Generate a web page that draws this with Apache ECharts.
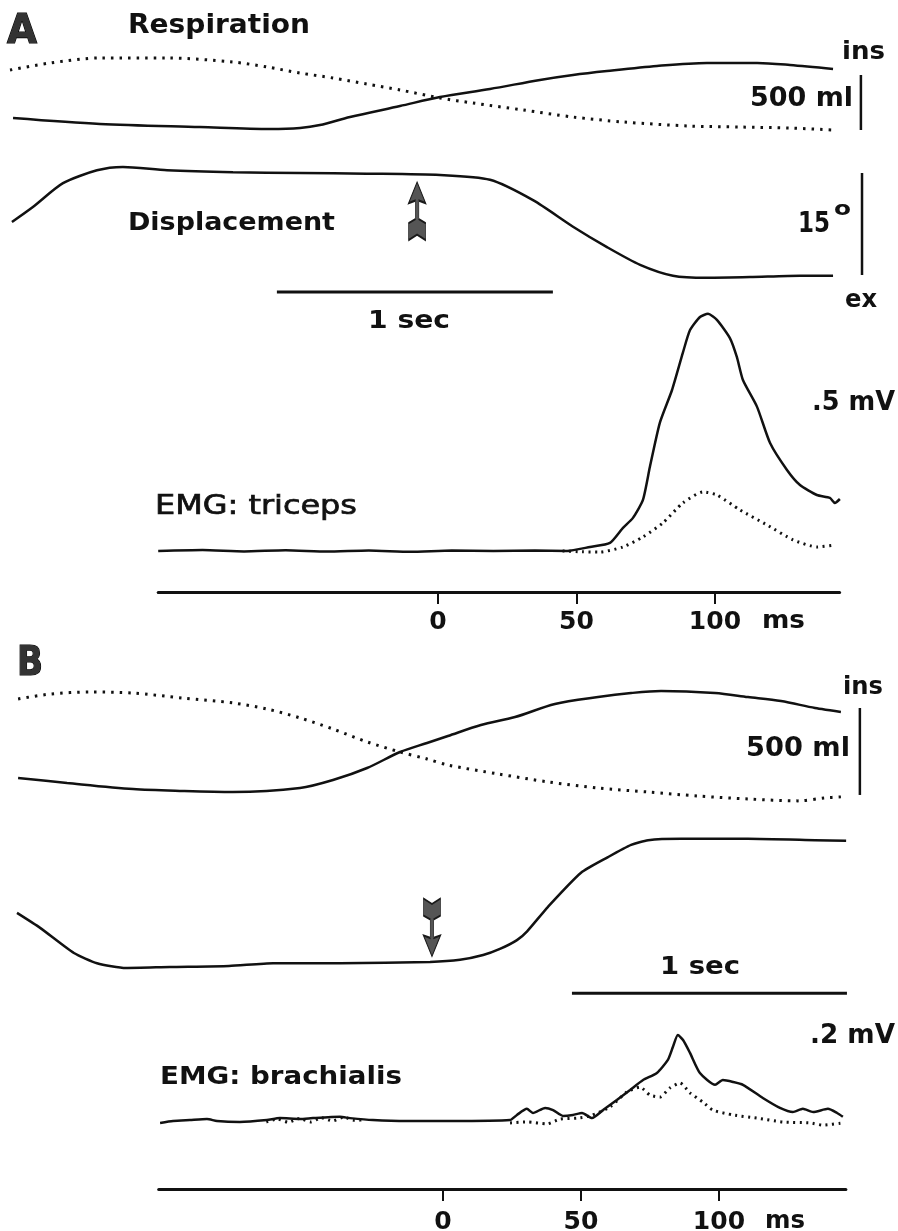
<!DOCTYPE html>
<html>
<head>
<meta charset="utf-8">
<script src="https://cdn.jsdelivr.net/npm/echarts@6/dist/echarts.min.js"></script>
<style>
html, body { margin: 0; padding: 0; background: #fff; }
#chart { width: 898px; height: 1231px; }
</style>
</head>
<body>
<div id="chart"></div>
<script>
// ---- panel A : slow traces, time in s ----
var aRespSolid = [[0.011,109],[0.326,55],[0.688,27],[0.942,9],[1.051,18],[1.123,45],[1.232,118],[1.413,218],[1.558,300],[1.739,373],[1.920,455],[2.040,500],[2.163,536],[2.344,582],[2.525,609],[2.707,609],[2.826,591],[2.982,555]];
var aRespDotted = [[0,545],[0.145,609],[0.326,655],[0.569,655],[0.808,618],[0.931,573],[1.051,518],[1.170,473],[1.293,418],[1.413,364],[1.558,291],[1.678,245],[1.859,182],[2.040,118],[2.221,73],[2.464,36],[2.645,27],[2.826,18],[2.982,0]];
var aDispl = [[0.007,7.8],[0.083,10.0],[0.192,13.5],[0.315,15.4],[0.409,15.9],[0.569,15.4],[0.808,15.1],[1.051,15.0],[1.293,14.9],[1.558,14.7],[1.739,14.0],[1.895,11.0],[2.040,7.1],[2.163,4.1],[2.283,1.5],[2.402,-0.1],[2.525,-0.4],[2.681,-0.3],[2.862,-0.1],[2.982,-0.1]];
var aStimulus = [1.475, 9.4];

// ---- panel A : EMG triceps, time in ms, mV ----
var aEmgSolid = [[-101,0],[-85,0.004],[-70,-0.002],[-55,0.003],[-40,-0.003],[-25,0.002],[-10,-0.004],[5,0.002],[20,0],[35,0.002],[46.6,0],[54.9,0.018],[62.1,0.036],[66.8,0.104],[70.4,0.149],[74.0,0.230],[76.5,0.378],[80.1,0.577],[84.5,0.725],[88.4,0.892],[91.0,0.995],[94.6,1.054],[97.5,1.068],[100.7,1.041],[105.4,0.959],[107.9,0.874],[110.1,0.770],[115.2,0.649],[119.9,0.486],[126.0,0.365],[130.7,0.297],[136.8,0.252],[141.5,0.239],[143.3,0.216],[145.1,0.234]];
var aEmgDotted = [[45,0],[52,-0.004],[58.5,-0.005],[66.8,0.018],[74.0,0.063],[81.2,0.126],[88.4,0.216],[95.7,0.266],[100.7,0.252],[109.0,0.185],[118.8,0.117],[128.2,0.050],[136.8,0.018],[143.3,0.027]];

// ---- panel B : slow traces ----
var bRespSolid = [[0.004,98],[0.182,69],[0.422,34],[0.604,23],[0.785,17],[1.029,40],[1.149,86],[1.273,155],[1.393,247],[1.491,299],[1.567,339],[1.687,402],[1.811,448],[1.956,523],[2.113,563],[2.233,586],[2.342,598],[2.538,586],[2.658,563],[2.778,540],[2.902,500],[2.996,477]];
var bRespDotted = [[0.004,552],[0.120,580],[0.265,592],[0.422,586],[0.604,557],[0.785,529],[0.909,494],[1.029,443],[1.149,379],[1.273,305],[1.393,247],[1.491,207],[1.567,172],[1.749,121],[1.931,75],[2.113,40],[2.295,17],[2.476,-6],[2.658,-23],[2.840,-34],[2.938,-17],[2.996,-11]];
var bDispl = [[0,8.1],[0.084,5.9],[0.207,2.2],[0.291,0.7],[0.396,0],[0.556,0.15],[0.771,0.3],[0.931,0.7],[1.175,0.7],[1.502,0.9],[1.611,1.2],[1.695,1.9],[1.756,2.8],[1.818,4.1],[1.855,5.4],[1.931,9.0],[2.051,14.0],[2.149,16.3],[2.233,18.1],[2.295,18.8],[2.415,19.0],[2.658,19.0],[2.902,18.8],[3.015,18.7]];
var bStimulus = [1.509, 5.96];

// ---- panel B : EMG brachialis ----
var bEmgSolid = [[-102.5,-0.006],[-97.8,0],[-91.7,0.003],[-85.5,0.006],[-81.9,0],[-73.6,-0.003],[-63.8,0.003],[-59.1,0.009],[-51.8,0.006],[-47.1,0.009],[-37.3,0.013],[-33.7,0.009],[-25.4,0.003],[-13.0,0],[-1.1,0],[2.5,0],[24.3,0.003],[26.8,0.019],[30.4,0.038],[32.6,0.025],[37.0,0.041],[39.9,0.034],[43.5,0.016],[47.1,0.019],[50.4,0.025],[54.0,0.009],[58.0,0.034],[63.0,0.066],[67.8,0.097],[72.5,0.128],[77.5,0.150],[81.5,0.191],[83.3,0.231],[85.1,0.269],[87.0,0.253],[89.5,0.213],[93.1,0.150],[98.6,0.113],[101.4,0.128],[105.1,0.122],[108.7,0.113],[115.9,0.072],[122.1,0.041],[126.8,0.028],[130.4,0.038],[134.1,0.028],[139.5,0.038],[142.8,0.025],[144.9,0.013]];
var bEmgDottedEarly = [[-64,-0.003],[-60,0.006],[-56,-0.004],[-52,0.008],[-48,-0.003],[-44,0.01],[-40,0],[-36,0.012],[-32,0.002],[-28,0.004]];
var bEmgDotted = [[24.3,-0.006],[30.4,-0.003],[37.7,-0.009],[42.4,0.006],[48.6,0.009],[53.3,0.016],[60.5,0.044],[66.7,0.091],[71.4,0.106],[75.0,0.081],[78.6,0.075],[82.2,0.103],[85.9,0.119],[89.5,0.088],[94.2,0.059],[97.8,0.034],[105.1,0.019],[113.8,0.009],[123.2,-0.003],[133.0,-0.006],[137.7,-0.013],[144.9,-0.006]];

// ms ticks, calibration bars
var msTicks = [0, 50, 100];
var volBar = 500, degBar = 15, secBar = 1;
var aMvBar = 0.5, bMvBar = 0.2;

var INK = '#111';
var FONT = '"DejaVu Sans", sans-serif';
var ARROW = 'path://M8.5,0 L16,21 L10,18.5 L10,37 L16,41 L16,58 L8.5,52.5 L1,58 L1,41 L7,37 L7,18.5 L1,21 Z';

var cvs = document.createElement('canvas').getContext('2d');
function label(str, x, y, size, weight, width, extra) {
    var font = weight + ' ' + size + 'px ' + FONT;
    cvs.font = font;
    var sx = width / cvs.measureText(str).width;
    return {
        type: 'text', x: x, y: y + 2, scaleX: sx, silent: true,
        style: Object.assign({ text: str, font: font, fill: INK,
            textAlign: 'left', align: 'left', textVerticalAlign: 'middle', verticalAlign: 'middle' }, extra || {})
    };
}

function trace(g, data, dotted, smooth) {
    return {
        type: 'line', xAxisIndex: g, yAxisIndex: g, data: data, symbol: 'none',
        smooth: smooth == null ? 0.3 : smooth, silent: true,
        lineStyle: dotted ? { color: INK, width: 3, type: dotted }
                          : { color: INK, width: 2.5 }
    };
}
function bar(g, p0, p1, w) {
    return {
        type: 'line', xAxisIndex: g, yAxisIndex: g, data: [p0, p1], symbol: 'none',
        clip: false, silent: true, lineStyle: { color: INK, width: w }
    };
}
function arrow(g, pt, rot) {
    return {
        type: 'scatter', xAxisIndex: g, yAxisIndex: g, data: [pt], symbol: ARROW,
        symbolSize: [17, 58], symbolRotate: rot, silent: true,
        itemStyle: { color: '#555', borderColor: '#1a1a1a', borderWidth: 1.2, opacity: 1 }
    };
}

var grids = [
    { left: 10, top: 50.8, width: 883.2, height: 90.2 },      // A respiration
    { left: 10, top: 159.4, width: 883.2, height: 142.8 },    // A displacement
    { left: 158.2, top: 300.1, width: 681.4, height: 291.9 }, // A EMG
    { left: 17, top: 681.9, width: 880, height: 123.5 },      // B respiration
    { left: 17, top: 832, width: 880, height: 170 },          // B displacement
    { left: 158.7, top: 1018.6, width: 687.2, height: 170.4 } // B EMG
];
grids.forEach(function (g) { g.containLabel = false; g.outerBoundsMode = 'none'; });

function emgX(g, min, max, margin) {
    return {
        type: 'value', gridIndex: g, min: min, max: max, position: 'bottom',
        axisLine: { show: true, onZero: false, lineStyle: { color: INK, width: 3 } },
        axisTick: { show: true, customValues: msTicks, inside: false, length: 12, lineStyle: { color: INK, width: 2 } },
        axisLabel: { show: true, customValues: msTicks, margin: margin, color: INK,
            fontFamily: FONT, fontWeight: 'bold', fontSize: 25, lineHeight: 25 },
        splitLine: { show: false }
    };
}

var DOTS = [2.5, 6];
var FINE_DOTS = [2, 4.5];

var option = {
    animation: false,
    backgroundColor: '#fff',
    grid: grids,
    xAxis: [
        { type: 'value', gridIndex: 0, min: 0, max: 3.2, show: false },
        { type: 'value', gridIndex: 1, min: 0, max: 3.2, show: false },
        emgX(2, -101, 145, 18),
        { type: 'value', gridIndex: 3, min: 0, max: 3.2, show: false },
        { type: 'value', gridIndex: 4, min: 0, max: 3.2, show: false },
        emgX(5, -103, 146, 21)
    ],
    yAxis: [
        { type: 'value', gridIndex: 0, min: -100, max: 720, show: false },
        { type: 'value', gridIndex: 1, min: -4, max: 17, show: false },
        { type: 'value', gridIndex: 2, min: -0.185, max: 1.13, show: false },
        { type: 'value', gridIndex: 3, min: -60, max: 650, show: false },
        { type: 'value', gridIndex: 4, min: -5, max: 20, show: false },
        { type: 'value', gridIndex: 5, min: -0.2125, max: 0.32, show: false }
    ],
    series: [
        trace(0, aRespSolid),
        trace(0, aRespDotted, DOTS),
        bar(0, [3.083, 0], [3.083, volBar], 2.5),
        trace(1, aDispl, false, 0.25),
        bar(1, [3.087, 0], [3.087, degBar], 2.5),
        bar(1, [0.967, -2.5], [0.967 + secBar, -2.5], 3),
        arrow(1, aStimulus, 0),
        trace(2, aEmgSolid, false, 0.2),
        trace(2, aEmgDotted, FINE_DOTS, 0.2),
        bar(2, [153.4, 0.013], [153.4, 0.013 + aMvBar], 2.5),

        trace(3, bRespSolid),
        trace(3, bRespDotted, DOTS),
        bar(3, [3.065, 0], [3.065, volBar], 2.5),
        trace(4, bDispl, false, 0.2),
        bar(4, [2.018, -3.7], [2.018 + secBar, -3.7], 3),
        arrow(4, bStimulus, 180),
        trace(5, bEmgSolid, false, 0.2),
        trace(5, bEmgDottedEarly, FINE_DOTS, 0.2),
        trace(5, bEmgDotted, FINE_DOTS, 0.2),
        bar(5, [152.2, -0.019], [152.2, -0.019 + bMvBar], 2.5)
    ],
    graphic: [
        label('A', 7, 30, 41, 'bold', 30, { fill: '#333', stroke: '#000', lineWidth: 1.2 }),
        label('Respiration', 128, 24.5, 26, 'bold', 182),
        label('ins', 842, 51, 24, 'bold', 43),
        label('500 ml', 750, 97, 27, 'bold', 103),
        label('Displacement', 128, 221, 25, 'bold', 207),
        label('15', 798, 223, 28, 'bold', 32),
        label('o', 834, 208, 20, 'bold', 17),
        label('ex', 845, 298, 25, 'bold', 32),
        label('1 sec', 368, 319, 25, 'bold', 82),
        label('EMG: triceps', 155, 505, 27, 'normal', 202, { stroke: INK, lineWidth: 0.7 }),
        label('.5 mV', 812, 401, 26, 'bold', 83),
        label('ms', 762, 619, 25, 'bold', 43),

        label('B', 17, 662, 41, 'bold', 26, { fill: '#333', stroke: '#000', lineWidth: 1.2 }),
        label('ins', 843, 686, 24, 'bold', 40),
        label('500 ml', 746, 747, 27, 'bold', 104),
        label('1 sec', 660, 966, 24, 'bold', 80),
        label('EMG: brachialis', 160, 1075, 25, 'bold', 242),
        label('.2 mV', 810, 1034, 26, 'bold', 85),
        label('ms', 765, 1219, 25, 'bold', 40)
    ]
};

var chart = echarts.init(document.getElementById('chart'), null, { renderer: 'canvas' });
chart.setOption(option);
</script>
</body>
</html>
